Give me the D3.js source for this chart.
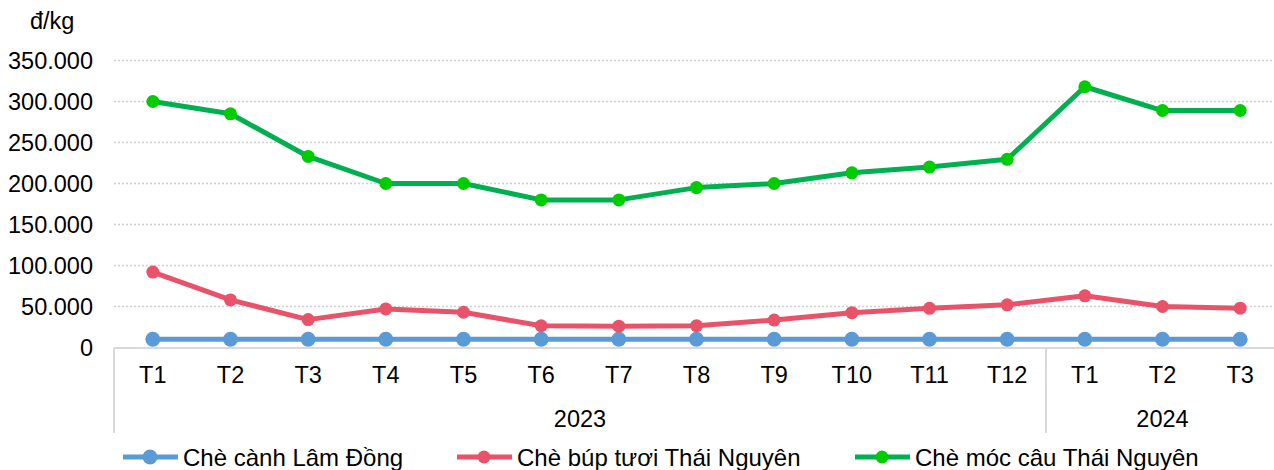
<!DOCTYPE html>
<html><head><meta charset="utf-8">
<script src="https://cdn.jsdelivr.net/npm/d3@7"></script>
<style>
body{margin:0;background:#fff;}
text{font-family:"Liberation Sans",Arial,sans-serif;fill:#000;}
</style></head>
<body><svg id="c" width="1274" height="470"></svg>
<script>
const months = ["T1","T2","T3","T4","T5","T6","T7","T8","T9","T10","T11","T12","T1","T2","T3"];
const years = ["2023","2023","2023","2023","2023","2023","2023","2023","2023","2023","2023","2023","2024","2024","2024"];
const yearGroups = ["2023","2024"];
const seriesNames = ["Chè cành Lâm Đồng","Chè búp tươi Thái Nguyên","Chè móc câu Thái Nguyên"];
const cheCanh = [10000,10000,10000,10000,10000,10000,10000,10000,10000,10000,10000,10000,10000,10000,10000];
const cheBup = [92000,58000,34000,47000,43000,26500,26000,26500,33500,42500,47800,52000,63000,50000,48000];
const cheMoc = [300000,285000,233000,200000,200000,180000,180000,195000,200000,213000,220000,229500,318000,289000,289000];
const yTicks = [0,50000,100000,150000,200000,250000,300000,350000];
const yUnit = "đ/kg";

const svg = d3.select("#c");
const left = 114, right = 1279, y0 = 347.5, yTop = 60.5;
const idx = months.map((m,i)=>i);
const x = d3.scaleBand().domain(idx).range([left,right]);
const y = d3.scaleLinear().domain([0,350000]).range([y0,yTop]);
const fmt = v => d3.format(",")(v).replace(/,/g,".");

// gridlines
svg.append("g").selectAll("line").data(yTicks.filter(d=>d>0)).join("line")
  .attr("x1",left).attr("x2",1274).attr("y1",d=>y(d)).attr("y2",d=>y(d))
  .attr("stroke","#d0d0d0").attr("stroke-width",1.5).attr("stroke-dasharray","2,2");

// y axis labels
const ya = svg.append("g").attr("transform",`translate(${left},0)`)
  .call(d3.axisLeft(y).tickValues(yTicks).tickFormat(fmt).tickSize(0).tickPadding(21));
ya.select(".domain").remove();
ya.selectAll("text").attr("font-size",23.5).attr("font-family","Liberation Sans, Arial, sans-serif").attr("fill","#000");

svg.append("text").attr("x",30).attr("y",29).attr("font-size",23.5).text(yUnit);

// x axis
const xa = svg.append("g").attr("transform",`translate(0,${y0})`)
  .call(d3.axisBottom(x).tickFormat(i=>months[i]).tickSize(0).tickPadding(19));
xa.select(".domain").attr("stroke","#d9d9d9").attr("stroke-width",2);
xa.selectAll("text").attr("font-size",23.5).attr("font-family","Liberation Sans, Arial, sans-serif").attr("fill","#000");

// group separators and year labels
const groupBounds = yearGroups.map(g=>{
  const ii = idx.filter(i=>years[i]===g);
  return {g, x0:x(ii[0]), x1:x(ii[ii.length-1])+x.bandwidth()};
});
const seps = [left].concat(groupBounds.map(b=>b.x1));
svg.append("g").selectAll("line").data(seps).join("line")
  .attr("x1",d=>d).attr("x2",d=>d).attr("y1",y0).attr("y2",433)
  .attr("stroke","#d9d9d9").attr("stroke-width",2);
svg.append("g").selectAll("text").data(groupBounds).join("text")
  .attr("x",d=>(d.x0+d.x1)/2).attr("y",427).attr("text-anchor","middle")
  .attr("font-size",23.5).text(d=>d.g);

// series
const series = [
  {name:seriesNames[0], values:cheCanh, line:"#5B9BD5", marker:"#5B9BD5", r:7.5},
  {name:seriesNames[1], values:cheBup, line:"#E8536A", marker:"#E8536A", r:6.5},
  {name:seriesNames[2], values:cheMoc, line:"#00B050", marker:"#00CC00", r:6.5}
];
const lineGen = d3.line().x((d,i)=>x(i)+x.bandwidth()/2).y(d=>y(d));
series.forEach(s=>{
  const g = svg.append("g");
  g.append("path").attr("d",lineGen(s.values)).attr("fill","none")
    .attr("stroke",s.line).attr("stroke-width",5).attr("stroke-linejoin","round");
  g.selectAll("circle").data(s.values).join("circle")
    .attr("cx",(d,i)=>x(i)+x.bandwidth()/2).attr("cy",d=>y(d)).attr("r",s.r).attr("fill",s.marker);
});

// legend
const legX = [150,484,882];
const ly = 457;
series.forEach((s,k)=>{
  const g = svg.append("g");
  g.append("line").attr("x1",legX[k]-27).attr("x2",legX[k]+28).attr("y1",ly).attr("y2",ly)
    .attr("stroke",s.line).attr("stroke-width",5);
  g.append("circle").attr("cx",legX[k]).attr("cy",ly).attr("r",s.r).attr("fill",s.marker);
  g.append("text").attr("x",legX[k]+33).attr("y",ly+8.5).attr("font-size",24).text(s.name);
});
</script></body></html>
